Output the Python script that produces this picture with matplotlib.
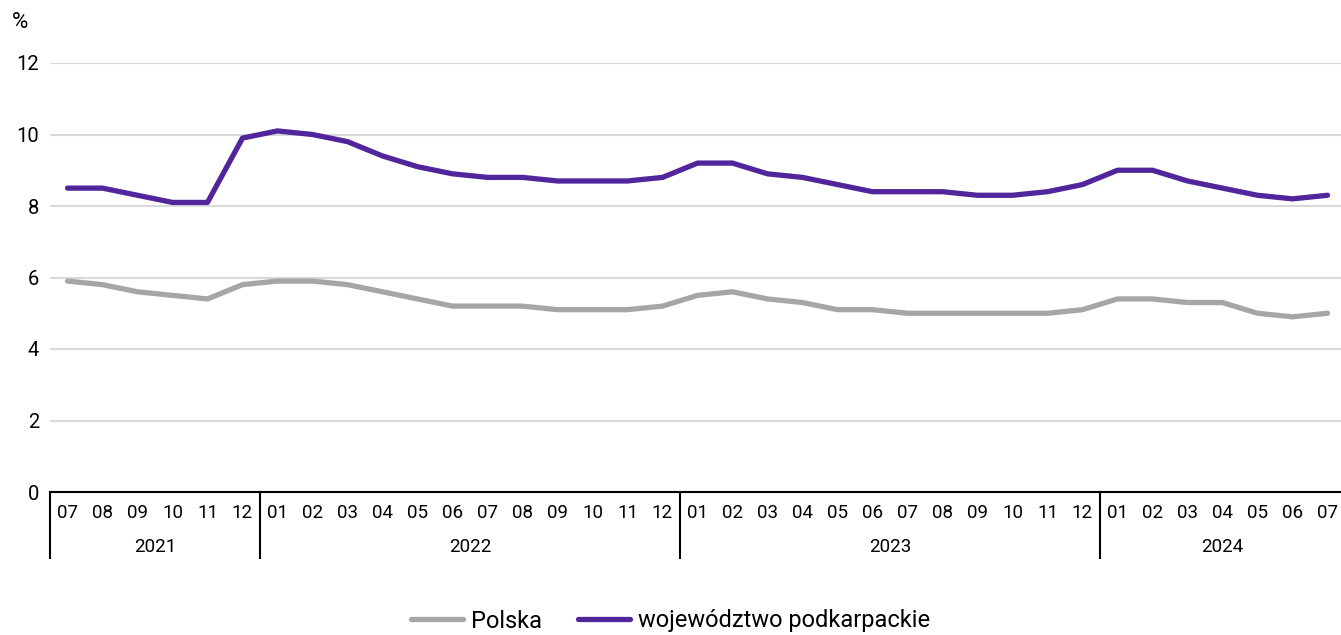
import matplotlib
matplotlib.use("Agg")
import matplotlib.pyplot as plt
from matplotlib.transforms import blended_transform_factory

months = ["07", "08", "09", "10", "11", "12",
          "01", "02", "03", "04", "05", "06", "07", "08", "09", "10", "11", "12",
          "01", "02", "03", "04", "05", "06", "07", "08", "09", "10", "11", "12",
          "01", "02", "03", "04", "05", "06", "07"]
years = ["2021", "2022", "2023", "2024"]
year_counts = [6, 12, 12, 7]

polska = [5.9, 5.8, 5.6, 5.5, 5.4, 5.8,
          5.9, 5.9, 5.8, 5.6, 5.4, 5.2, 5.2, 5.2, 5.1, 5.1, 5.1, 5.2,
          5.5, 5.6, 5.4, 5.3, 5.1, 5.1, 5.0, 5.0, 5.0, 5.0, 5.0, 5.1,
          5.4, 5.4, 5.3, 5.3, 5.0, 4.9, 5.0]
podkarpackie = [8.5, 8.5, 8.3, 8.1, 8.1, 9.9,
                10.1, 10.0, 9.8, 9.4, 9.1, 8.9, 8.8, 8.8, 8.7, 8.7, 8.7, 8.8,
                9.2, 9.2, 8.9, 8.8, 8.6, 8.4, 8.4, 8.4, 8.3, 8.3, 8.4, 8.6,
                9.0, 9.0, 8.7, 8.5, 8.3, 8.2, 8.3]

plt.rcParams['font.family'] = ['Roboto', 'DejaVu Sans']

fig = plt.figure(figsize=(13.41, 6.35), dpi=100)
ax = fig.add_axes([50/1341, (635-492)/635, 1295/1341, (492-63)/635])

x = list(range(len(months)))
ax.plot(x, polska, color="#A6A6A6", lw=3.8, label="Polska", solid_capstyle="round", zorder=3)
ax.plot(x, podkarpackie, color="#51259B", lw=3.8, label="województwo podkarpackie",
        solid_capstyle="round", zorder=3)

ax.set_xlim(-0.5, len(months) - 0.5)
ax.set_ylim(0, 12)
ax.set_yticks([0, 2, 4, 6, 8, 10, 12])
ax.set_yticklabels(["0", "2", "4", "6", "8", "10", "12"], fontsize=14.5)
ax.tick_params(axis="y", length=0, pad=8)
ax.yaxis.grid(True, color="#D9D9D9", lw=1.5)
ax.set_axisbelow(True)
for s in ["top", "right", "left"]:
    ax.spines[s].set_visible(False)
ax.spines["bottom"].set_color("black")
ax.spines["bottom"].set_linewidth(1.5)

ax.set_xticks(x)
ax.set_xticklabels(months, fontsize=13.5)
ax.tick_params(axis="x", length=0, pad=9)

trans = blended_transform_factory(ax.transData, ax.transAxes)
start = -0.5
for yr, n in zip(years, year_counts):
    ax.plot([start, start], [0, -0.155], transform=trans, color="black", lw=1.5, clip_on=False)
    ax.text(start + n / 2, -0.128, yr, transform=trans, ha="center", va="center", fontsize=13.5)
    start += n

fig.text(12/1341, 1 - 22/635, "%", fontsize=16, ha="left", va="center")

fig.legend(loc="center", bbox_to_anchor=(0.5, 1 - 621/635), ncol=2, frameon=False,
           fontsize=17, handlelength=2.2, columnspacing=1.5, handletextpad=0.35)

fig.savefig("out.png", dpi=100)
